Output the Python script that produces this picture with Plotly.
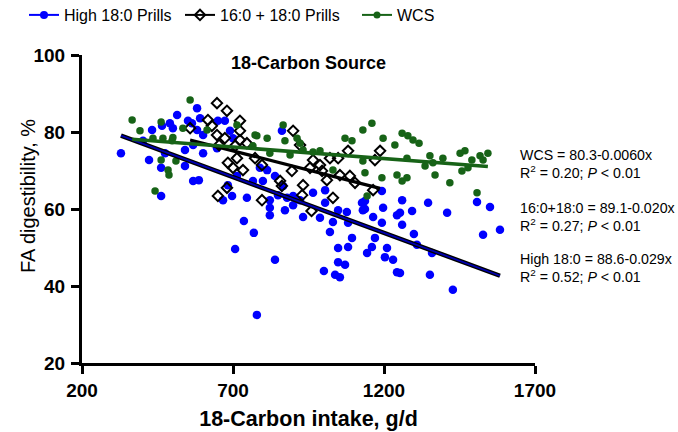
import plotly.graph_objects as go

# ---------------- data ----------------
high_x = [329, 422, 462, 432, 402, 465, 491, 515, 501, 475, 541, 541, 568, 587, 581, 551, 564, 591,
          581, 601, 568, 601, 650, 673, 647, 690, 700, 713, 683, 462, 697, 667, 746,
          862, 789, 813, 839, 799, 866, 766, 965, 1005, 1193, 849, 879, 899, 922, 822, 1137,
          736, 707, 769, 839, 822, 872, 899, 822, 932, 988, 1031, 1048, 1077, 1081, 1130, 1164,
          1193, 1197, 1243, 1021, 1094, 1048, 1081, 1170, 1160, 1210, 1144, 1048, 1071, 1203,
          1230, 1243, 1001, 1038, 1054, 779, 1005, 1127, 1260, 1299, 1309, 1346, 1409, 1359,
          1352, 1428, 1508, 1551, 1528, 1584, 1253, 1260, 1293, 1253, 1137]
high_y = [74.5, 72.7, 70.7, 80.5, 77.7, 81.6, 82.3, 84.4, 81.0, 74.5, 75.3, 71.2, 67.3, 67.5, 86.2,
          82.9, 82.3, 83.6, 80.5, 79.2, 76.6, 74.5, 82.9, 82.9, 75.8, 80.3, 78.4, 68.6, 66.2, 63.4,
          63.4, 62.3, 62.9,
          80.3, 70.7, 70.1, 68.6, 67.3, 66.0, 67.3, 64.2, 64.9, 64.7, 63.6, 62.9, 63.4, 62.3, 62.3, 62.1,
          56.9, 49.6, 53.8, 46.8, 60.3, 59.7, 61.0, 58.4, 57.9, 57.7, 56.6, 59.7, 59.2, 56.4, 59.7, 57.9,
          56.4, 60.3, 58.4, 54.0, 52.5, 49.9, 50.1, 52.5, 50.1, 49.9, 48.6, 46.2, 45.5, 47.5,
          46.8, 43.6, 43.9, 42.9, 42.3, 32.5, 61.6, 61.6, 62.3, 53.5, 50.7, 61.6, 59.0, 48.6,
          42.9, 39.0, 61.8, 60.5, 53.3, 54.6, 59.0, 55.9, 59.5, 43.4, 60.0]

mix_x = [647, 680, 723, 723, 617, 630, 647, 654, 673, 707, 723, 746, 683, 700, 713, 733, 680, 650, 558,
         899, 773, 922, 965, 1021, 1048, 1081, 1187, 1170, 988, 955, 895, 995, 1054, 1087, 1011, 1104,
         1164, 856, 862, 932, 929, 796, 1031, 796, 960]
mix_y = [87.5, 85.5, 82.9, 80.3, 83.1, 81.6, 79.2, 76.6, 78.4, 76.4, 77.9, 77.1, 72.0, 70.7, 73.2, 70.1,
         65.5, 63.4, 81.0,
         80.3, 73.2, 76.6, 72.7, 73.2, 73.2, 75.1, 75.1, 72.7, 71.4, 70.7, 69.9, 69.9, 68.8, 68.6, 67.5,
         66.8, 64.9, 67.3, 66.0, 66.2, 63.6, 62.3, 62.9, 71.4, 59.5]

wcs_x = [366, 392, 462, 435, 468, 498, 534, 558, 462, 485, 488, 511, 442, 713, 614, 501,
         866, 779, 813, 872, 912, 922, 932, 889, 822, 988, 1031, 1130, 1160, 1071, 1094, 1197, 1236,
         1243, 1137, 1193, 1144, 1130, 766, 773, 965,
         1260, 1279, 1296, 1316, 1276, 1336, 1352, 1362, 1395, 1369, 1418, 1452, 1468, 1458, 1478,
         1491, 1518, 1528, 1544, 1260, 1276, 1508]
wcs_y = [83.1, 80.3, 82.6, 78.4, 78.4, 77.7, 81.0, 88.3, 72.7, 70.1, 68.8, 72.5, 64.7, 81.8, 80.5, 78.6,
         81.8, 79.0, 78.4, 77.7, 78.4, 77.1, 75.3, 74.0, 74.5, 75.1, 70.1, 80.5, 82.3, 78.4, 77.7, 78.4, 76.6,
         68.8, 69.4, 68.1, 63.4, 72.5, 76.4, 79.2, 74.8,
         79.7, 79.0, 77.9, 77.1, 73.2, 71.2, 73.8, 72.0, 73.2, 68.8, 66.8, 74.5, 75.1, 69.9, 70.7,
         72.7, 73.8, 72.7, 74.5, 67.3, 68.1, 64.2]

# regression coefficients (intercept, slope)
high_fit = (88.6, -0.029)
mix_fit = (89.1, -0.020)
wcs_fit = (80.3, -0.0060)

legend_names = ["High 18:0 Prills", "16:0 + 18:0 Prills", "WCS"]
eq_texts = [
    "WCS = 80.3-0.0060x<br>R<sup>2</sup> = 0.20; <i>P</i> &lt; 0.01",
    "16:0+18:0 = 89.1-0.020x<br>R<sup>2</sup> = 0.27; <i>P</i> &lt; 0.01",
    "High 18:0 = 88.6-0.029x<br>R<sup>2</sup> = 0.52; <i>P</i> &lt; 0.01",
]
x_ticks = [200, 700, 1200, 1700]
y_ticks = [20, 40, 60, 80, 100]

BLUE = "#0000FF"
GREEN = "#176317"
FONT = "Liberation Sans, Arial, sans-serif"


def fit_line(xs, fit):
    lo, hi = min(xs), max(xs)
    return [lo, hi], [fit[0] + fit[1] * lo, fit[0] + fit[1] * hi]


fig = go.Figure()

# scatter points
fig.add_trace(go.Scatter(x=high_x, y=high_y, mode="markers", showlegend=False,
                         marker=dict(color=BLUE, size=8.5, line=dict(width=0))))
fig.add_trace(go.Scatter(x=mix_x, y=mix_y, mode="markers", showlegend=False,
                         marker=dict(symbol="diamond-open", color="black", size=8,
                                     line=dict(width=2, color="black"))))
fig.add_trace(go.Scatter(x=wcs_x, y=wcs_y, mode="markers", showlegend=False,
                         marker=dict(color=GREEN, size=7.5, line=dict(width=0))))

# regression lines
lx, ly = fit_line(high_x, high_fit)
fig.add_trace(go.Scatter(x=lx, y=ly, mode="lines", showlegend=False,
                         line=dict(color="black", width=4.5)))
fig.add_trace(go.Scatter(x=lx, y=ly, mode="lines", showlegend=False,
                         line=dict(color="#0000B0", width=1.8)))
lx, ly = fit_line(mix_x, mix_fit)
fig.add_trace(go.Scatter(x=lx, y=ly, mode="lines", showlegend=False,
                         line=dict(color="black", width=3.2)))
lx, ly = fit_line(wcs_x, wcs_fit)
fig.add_trace(go.Scatter(x=lx, y=ly, mode="lines", showlegend=False,
                         line=dict(color=GREEN, width=3.6)))

# legend entries (each in its own legend box for exact placement)
fig.add_trace(go.Scatter(x=[None], y=[None], mode="lines+markers", name=legend_names[0],
                         legend="legend",
                         line=dict(color=BLUE, width=2), marker=dict(color=BLUE, size=8)))
fig.add_trace(go.Scatter(x=[None], y=[None], mode="lines+markers", name=legend_names[1],
                         legend="legend2",
                         line=dict(color="black", width=2),
                         marker=dict(symbol="diamond-open", color="black", size=8,
                                     line=dict(width=2, color="black"))))
fig.add_trace(go.Scatter(x=[None], y=[None], mode="lines+markers", name=legend_names[2],
                         legend="legend3",
                         line=dict(color=GREEN, width=2), marker=dict(color=GREEN, size=7)))

axis_common = dict(showgrid=False, zeroline=False, showline=True, linecolor="black", linewidth=3,
                   ticks="outside", ticklen=8, tickwidth=2.5, tickcolor="black",
                   tickfont=dict(family=FONT, size=19, color="black", weight="bold"),
                   automargin=False)

fig.update_xaxes(range=[200, 1700], tickvals=x_ticks, ticktext=[str(v) for v in x_ticks],
                 title=dict(text="18-Carbon intake, g/d", standoff=12,
                            font=dict(family=FONT, size=21.5, color="black", weight="bold")),
                 **axis_common)
fig.update_yaxes(range=[20, 100], tickvals=y_ticks, ticktext=[str(v) for v in y_ticks],
                 ticklabelstandoff=2, **axis_common)

# y-axis title
fig.add_annotation(text="FA digestibility, %", xref="paper", yref="paper",
                   x=(28 - 82) / 453, y=(363 - 196) / 308, xanchor="center", yanchor="middle",
                   textangle=-90, showarrow=False,
                   font=dict(family=FONT, size=20, color="black"))

ann_y = [0.646, 0.474, 0.308]
for t, yy in zip(eq_texts, ann_y):
    fig.add_annotation(text=t, xref="paper", yref="paper", x=(518 - 82) / 453, y=yy,
                       xanchor="left", yanchor="middle", align="left", showarrow=False,
                       font=dict(family=FONT, size=14.2, color="black"))

leg_common = dict(orientation="h", xref="container", yref="container", y=1 - 15 / 432,
                  xanchor="left", yanchor="middle",
                  font=dict(family=FONT, size=16, color="black"),
                  itemwidth=30, bgcolor="rgba(0,0,0,0)")

fig.update_layout(
    width=678, height=432,
    margin=dict(l=82, r=143, t=55, b=69),
    paper_bgcolor="white", plot_bgcolor="white",
    title=dict(text="18-Carbon Source", x=0.5, xref="paper", y=1 - 63 / 432, yref="container",
               xanchor="center", yanchor="middle",
               font=dict(family=FONT, size=18, color="black", weight="bold")),
    legend=dict(x=24 / 678, **leg_common),
    legend2=dict(x=180 / 678, **leg_common),
    legend3=dict(x=357 / 678, **leg_common),
    showlegend=True,
)

fig.write_html("out.html")
